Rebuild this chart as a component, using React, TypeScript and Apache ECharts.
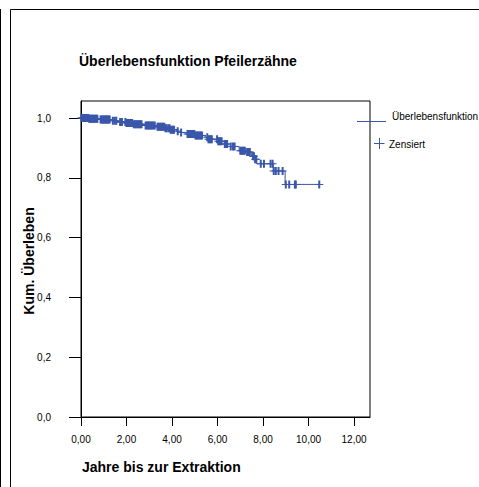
import React, { useEffect, useRef } from "react";
import * as echarts from "echarts";

// Kaplan-Meier step function: time (years) at which survival drops, and survival after the drop
const stepTimes = [0, 0.35, 0.85, 1.35, 1.6, 2.0, 2.3, 2.8, 3.35, 3.7, 3.9, 4.2, 4.4, 4.65, 5.0, 5.45, 5.6, 6.0, 6.3, 6.45, 6.95, 7.25, 7.5, 7.62, 7.72, 8.45, 8.97, 10.47];
const stepSurvival = [1.0, 0.998, 0.995, 0.991, 0.987, 0.983, 0.979, 0.975, 0.971, 0.966, 0.961, 0.956, 0.952, 0.947, 0.942, 0.936, 0.929, 0.922, 0.913, 0.905, 0.891, 0.886, 0.872, 0.862, 0.847, 0.823, 0.778, 0.778];

// Censored observation times (years)
const censoredTimes = [
  0.02, 0.05, 0.08, 0.11, 0.14, 0.17, 0.2, 0.23, 0.26, 0.29, 0.32, 0.36, 0.4, 0.44, 0.48, 0.52, 0.56, 0.6, 0.64, 0.68, 0.72,
  0.86, 0.9, 0.94, 0.98, 1.02, 1.06, 1.1, 1.14, 1.18, 1.22, 1.26,
  1.4, 1.48, 1.55,
  1.72, 1.76, 1.8,
  1.95, 2.0, 2.05, 2.1, 2.15, 2.2, 2.25,
  2.32, 2.37, 2.42, 2.47, 2.52, 2.57, 2.62, 2.66,
  2.84, 2.89, 2.94, 2.99, 3.04, 3.09, 3.14, 3.19, 3.24,
  3.36, 3.41, 3.46, 3.51, 3.56, 3.61, 3.66, 3.71, 3.76,
  3.84, 3.89, 3.94, 3.99, 4.04, 4.09,
  4.25, 4.4,
  4.68, 4.73, 4.78, 4.83, 4.88, 4.93, 4.98, 5.03, 5.08,
  5.12, 5.17, 5.22, 5.27, 5.32,
  5.55, 5.6, 5.65, 5.7, 5.75,
  5.98, 6.03, 6.08, 6.13, 6.18,
  6.32, 6.37, 6.42,
  6.58, 6.68, 6.75,
  7.0, 7.05, 7.1, 7.15, 7.2,
  7.3, 7.36, 7.42,
  7.56, 7.6, 7.65, 7.7,
  7.9, 8.04, 8.33, 8.42,
  8.47, 8.56, 8.68, 8.86,
  9.0, 9.15, 9.4, 9.44, 10.47,
];

const xTickValues = [0, 2, 4, 6, 8, 10, 12];
const yTickValues = [0, 0.2, 0.4, 0.6, 0.8, 1.0];

const titleText = "Überlebensfunktion Pfeilerzähne";
const xAxisTitle = "Jahre bis zur Extraktion";
const yAxisTitle = "Kum. Überleben";
const legendLabels = ["Überlebensfunktion", "Zensiert"];

const BLUE = "#3a57aa";
const FONT = '"Liberation Sans", Arial, sans-serif';
const PLUS = "path://M-1,-4H1V-0.5H4V0.5H1V4H-1V0.5H-4V-0.5H-1Z";

function survivalAt(t: number): number {
  let s = stepSurvival[0];
  for (let i = 0; i < stepTimes.length; i++) {
    if (stepTimes[i] <= t) s = stepSurvival[i];
  }
  return s;
}

export default function App() {
  const ref = useRef<HTMLDivElement>(null);
  useEffect(() => {
    if (!ref.current) return;
    const chart = echarts.init(ref.current, null, { renderer: "svg" });
    const option: any = {
      animation: false,
      backgroundColor: "#fff",
      grid: {
        left: 81,
        top: 101,
        width: 289,
        height: 316,
        show: true,
        borderColor: "#000",
        borderWidth: 1,
        containLabel: false,
        outerBoundsMode: "none",
      },
      xAxis: {
        type: "value",
        min: 0,
        max: 12.7,
        axisLine: { show: true, onZero: false, lineStyle: { color: "#000", width: 1 } },
        axisTick: { show: true, inside: false, length: 9, customValues: xTickValues, lineStyle: { color: "#000", width: 1 } },
        axisLabel: {
          show: true,
          customValues: xTickValues,
          formatter: (v: number) => v.toFixed(2).replace(".", ","),
          fontSize: 10,
          fontFamily: FONT,
          color: "#000",
          margin: 17,
        },
        splitLine: { show: false },
      },
      yAxis: {
        type: "value",
        min: 0,
        max: 1.057,
        axisLine: { show: true, onZero: false, lineStyle: { color: "#000", width: 1 } },
        axisTick: { show: true, inside: false, length: 12, customValues: yTickValues, lineStyle: { color: "#000", width: 1 } },
        axisLabel: {
          show: true,
          customValues: yTickValues,
          formatter: (v: number) => v.toFixed(1).replace(".", ","),
          fontSize: 10,
          fontFamily: FONT,
          color: "#000",
          margin: 30,
        },
        splitLine: { show: false },
      },
      series: [
        {
          type: "line",
          name: legendLabels[0],
          step: "end",
          showSymbol: false,
          symbol: "none",
          lineStyle: { color: BLUE, width: 1 },
          data: stepTimes.map((t, i) => [t, stepSurvival[i]]),
          z: 2,
        },
        {
          type: "scatter",
          name: legendLabels[1],
          symbol: PLUS,
          symbolSize: [8, 8],
          itemStyle: { color: BLUE, opacity: 1 },
          data: censoredTimes.map((t) => [t, survivalAt(t)]),
          z: 3,
        },
      ],
      graphic: [
        { type: "line", shape: { x1: 0.5, y1: 9, x2: 0.5, y2: 487 }, style: { stroke: "#000", lineWidth: 1 } },
        { type: "line", shape: { x1: 10.5, y1: 9.5, x2: 479, y2: 9.5 }, style: { stroke: "#000", lineWidth: 1 } },
        { type: "line", shape: { x1: 10.5, y1: 9.5, x2: 10.5, y2: 487 }, style: { stroke: "#000", lineWidth: 1 } },
        {
          type: "text",
          x: 79,
          y: 61,
          style: { text: titleText, fontSize: 14, fontWeight: "bold", fontFamily: FONT, fill: "#000", align: "left", verticalAlign: "middle" },
        },
        {
          type: "text",
          x: 82,
          y: 467,
          style: { text: xAxisTitle, fontSize: 14, fontWeight: "bold", fontFamily: FONT, fill: "#000", align: "left", verticalAlign: "middle" },
        },
        {
          type: "text",
          x: 29,
          y: 261,
          rotation: Math.PI / 2,
          style: { text: yAxisTitle, fontSize: 14, fontWeight: "bold", fontFamily: FONT, fill: "#000", align: "center", verticalAlign: "middle" },
        },
        { type: "line", shape: { x1: 357, y1: 121.5, x2: 386, y2: 121.5 }, style: { stroke: BLUE, lineWidth: 1 } },
        {
          type: "text",
          x: 392,
          y: 116,
          style: { text: legendLabels[0], fontSize: 10, fontFamily: FONT, fill: "#000", align: "left", verticalAlign: "middle" },
        },
        { type: "line", shape: { x1: 374, y1: 143.5, x2: 384.5, y2: 143.5 }, style: { stroke: BLUE, lineWidth: 1 } },
        { type: "line", shape: { x1: 379.5, y1: 138, x2: 379.5, y2: 149 }, style: { stroke: BLUE, lineWidth: 1 } },
        {
          type: "text",
          x: 389,
          y: 144,
          style: { text: legendLabels[1], fontSize: 10, fontFamily: FONT, fill: "#000", align: "left", verticalAlign: "middle" },
        },
      ],
    };
    chart.setOption(option);
    return () => chart.dispose();
  }, []);
  return (
    <div
      ref={ref}
      style={{ position: "fixed", left: 0, top: 0, width: 479, height: 487, background: "#fff" }}
    />
  );
}
